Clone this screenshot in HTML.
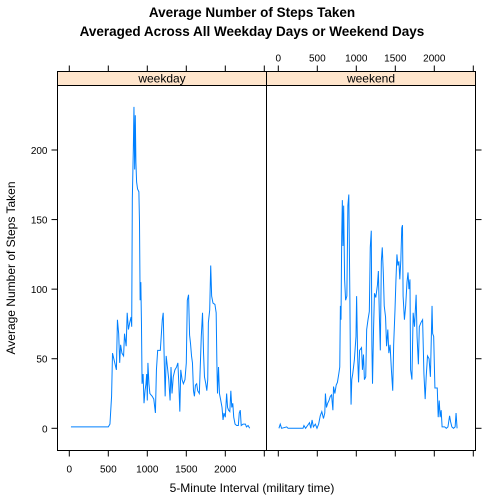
<!DOCTYPE html>
<html><head><meta charset="utf-8">
<style>
body{margin:0;background:#fff;}
svg{display:block;font-family:"Liberation Sans",Arial,sans-serif;}
</style></head>
<body>
<svg id="chart" width="504" height="504" viewBox="0 0 504 504">
<text x="252" y="17" text-anchor="middle" font-size="13.5" font-weight="bold">Average Number of Steps Taken</text>
<text x="252" y="36" text-anchor="middle" font-size="13.5" font-weight="bold">Averaged Across All Weekday Days or Weekend Days</text>
<text x="252" y="492" text-anchor="middle" font-size="12">5-Minute Interval (military time)</text>
<text transform="translate(15,268) rotate(-90)" text-anchor="middle" font-size="12">Average Number of Steps Taken</text>
<g id="plot"></g>
</svg>
<script>
const panels = ["weekday","weekend"];
const xTicks = [0,500,1000,1500,2000,2500];
const xTickLabels = ["0","500","1000","1500","2000",""];
const yTicks = [0,50,100,150,200];
const yTickLabels = ["0","50","100","150","200"];
const weekdayIntervals = [21,500,521,542,554,583,604,617,633,646,658,675,696,708,729,742,758,775,792,800,808,821,829,838,846,854,863,875,892,900,908,917,925,933,946,958,971,983,992,1000,1008,1021,1033,1063,1083,1104,1117,1133,1167,1192,1204,1217,1229,1242,1258,1275,1292,1304,1317,1333,1354,1375,1392,1404,1417,1429,1446,1463,1483,1500,1513,1529,1542,1554,1567,1579,1592,1604,1617,1633,1646,1667,1679,1692,1708,1721,1733,1750,1763,1775,1783,1800,1813,1825,1842,1867,1883,1892,1900,1913,1925,1942,1958,1971,1983,2000,2017,2029,2042,2058,2071,2083,2096,2108,2125,2146,2167,2179,2192,2204,2229,2258,2271,2292,2313];
const weekdaySteps = [1,1,3,23,54,47,42,78,68,47,60,54,52,68,59,83,71,76,80,73,165,201,231,186,225,191,177,172,170,148,92,105,76,32,39,18,27,32,39,20,47,32,25,23,21,11,42,56,56,78,83,49,23,52,44,35,20,44,25,37,42,44,47,32,12,42,35,32,35,47,92,96,67,61,52,47,27,23,31,32,27,25,44,66,83,54,37,32,27,35,76,85,117,95,90,89,83,47,25,44,25,20,15,6,11,8,25,15,13,12,27,15,18,8,3,2,2,11,13,2,3,3,1,2,0];
const weekendIntervals = [8,25,42,108,125,317,329,350,375,400,417,433,450,475,496,517,538,558,579,596,604,617,633,650,667,683,700,708,725,742,758,775,788,796,804,813,821,829,838,850,863,879,892,904,917,925,933,942,954,975,996,1004,1017,1029,1042,1067,1079,1092,1104,1121,1133,1150,1167,1179,1192,1200,1208,1221,1233,1250,1271,1283,1296,1308,1321,1333,1346,1358,1375,1388,1404,1417,1433,1450,1467,1479,1496,1508,1521,1533,1546,1558,1571,1583,1592,1600,1617,1633,1650,1663,1675,1688,1696,1713,1729,1746,1767,1779,1796,1808,1829,1850,1867,1883,1896,1913,1933,1950,1958,1971,1979,1992,2000,2008,2038,2050,2063,2075,2088,2100,2133,2154,2175,2196,2208,2225,2246,2267,2279,2292];
const weekendSteps = [0,3,0,1,0,0,2,0,2,4,0,6,1,3,0,3,9,12,7,11,25,15,18,20,23,24,13,30,25,31,33,39,44,88,78,138,164,131,160,107,92,95,160,168,97,44,17,35,39,49,66,95,52,33,56,58,42,53,35,37,71,78,84,130,142,59,32,71,97,94,103,113,80,56,120,130,112,88,80,59,71,54,60,42,27,60,85,106,125,117,120,107,121,144,146,95,78,88,105,112,100,107,42,35,83,73,96,66,46,73,76,78,39,21,37,52,50,37,56,88,68,66,47,29,29,8,20,8,13,1,1,0,1,9,5,1,0,1,11,0];

const NS="http://www.w3.org/2000/svg";
const plotG=document.getElementById('plot');
const panelLeft=[57.5,266.5], panelW=209, panelTop=85.5, panelBottom=450.5, stripTop=71.5;
function xScale(p,v){return panelLeft[p]+11.8+v*0.078;}
function yScale(v){return 428.3-v*1.3915;}
function mk(tag,attrs){const e=document.createElementNS(NS,tag);for(const k in attrs)e.setAttribute(k,attrs[k]);plotG.appendChild(e);return e;}
const seriesI=[weekdayIntervals,weekendIntervals], seriesV=[weekdaySteps,weekendSteps];
panels.forEach((name,p)=>{
  const x0=panelLeft[p];
  const strip=mk('rect',{x:x0,y:stripTop,width:panelW,height:panelTop-stripTop,fill:'#ffe5cc',stroke:'#000','stroke-width':1});
  
  
  const st=mk('text',{x:x0+panelW/2,y:panelTop-3,'text-anchor':'middle','font-size':12});
  st.textContent=name;
  
  
  const fr=mk('rect',{x:x0,y:panelTop,width:panelW,height:panelBottom-panelTop,fill:'none',stroke:'#000','stroke-width':1});
  
  
  xTicks.forEach((t,i)=>{
    const x=xScale(p,t);
    const tk=mk('line',{x1:x,x2:x,y1:panelBottom,y2:panelBottom+6,stroke:'#000'});
    
    
    const tt=mk('line',{x1:x,x2:x,y1:stripTop,y2:stripTop-6,stroke:'#000'});
    
    
    if(p===0){
      const lb=mk('text',{x:x,y:panelBottom+22,'text-anchor':'middle','font-size':10});
      lb.textContent=xTickLabels[i];
      
      
    } else {
      const lb=mk('text',{x:x,y:stripTop-10,'text-anchor':'middle','font-size':10});
      lb.textContent=xTickLabels[i];
      
      
    }
  });
  let d='';
  seriesI[p].forEach((v,i)=>{d+=(i?'L':'M')+xScale(p,v).toFixed(2)+','+yScale(seriesV[p][i]).toFixed(2);});
  const ln=mk('path',{d:d,fill:'none',stroke:'#0080ff','stroke-width':1});
  
  
});
yTicks.forEach((t,i)=>{
  const y=yScale(t);
  const tk=mk('line',{x1:panelLeft[0]-6,x2:panelLeft[0],y1:y,y2:y,stroke:'#000'});
  
  
  const rx=panelLeft[1]+panelW;
  const tr=mk('line',{x1:rx,x2:rx+6,y1:y,y2:y,stroke:'#000'});
  
  
  const lb=mk('text',{x:panelLeft[0]-10,y:y+4,'text-anchor':'end','font-size':10});
  lb.textContent=yTickLabels[i];
  
  
});
</script>
</body></html>
